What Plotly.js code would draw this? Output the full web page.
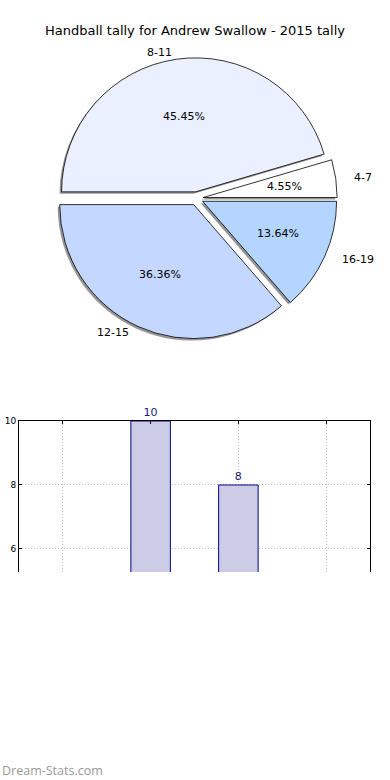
<!DOCTYPE html>
<html>
<head>
<meta charset="utf-8">
<script src="https://cdn.plot.ly/plotly-3.0.1.min.js"></script>
<style>html,body{margin:0;padding:0;background:#fff;}#chart{width:390px;height:780px;}</style>
</head>
<body>
<div id="chart"></div>
<script>
// ---- data ----
const categories = ['4-7', '8-11', '12-15', '16-19'];
const tallies = [1, 10, 8, 3];
const sliceColors = ['#ffffff', '#eaf0ff', '#c4d8ff', '#b3d5ff'];
const titleText = 'Handball tally for Andrew Swallow - 2015 tally';
const yTicks = [6, 8, 10];

// ---- layout helpers ----
const W = 390, H = 780;
const px = x => x / W;
const py = y => 1 - y / H;
const pull = 0.05;
function box(cx, cy, half) {
  return { x: [px(cx - half), px(cx + half)], y: [py(cy + half), py(cy - half)] };
}
const cx = 196.5, cy = 198.5, R = 134;
const half = R * (1 + pull);
const total = tallies.reduce((a, b) => a + b, 0);
// first wedge starts at 3 o'clock and runs counterclockwise
const rot = 90 - 360 * tallies[0] / total;

const common = { labels: categories, values: tallies, sort: false,
  direction: 'counterclockwise', rotation: rot, pull: pull, type: 'pie', showlegend: false };

const shadow = Object.assign({}, common, {
  marker: { colors: categories.map(() => 'rgba(80,80,80,0.6)'), line: { width: 0 } },
  textinfo: 'none', hoverinfo: 'skip',
  domain: box(cx - 2, cy + 2, half)
});
const main = Object.assign({}, common, {
  marker: { colors: sliceColors, line: { color: '#000', width: 0.8 } },
  textinfo: 'none',
  domain: box(cx, cy, half)
});

// wedge-mid directions derived from the data (angle counterclockwise from 3 o'clock)
let acc = 0;
const mids = tallies.map(v => { const a0 = acc; acc += v; return ((a0 + v / 2) / total) * 2 * Math.PI; });
const pctText = tallies.map(v => (100 * v / total).toFixed(2) + '%');
const txtFont = { family: 'DejaVu Sans', size: 11, color: '#000' };
const pieTexts = [];
mids.forEach((a, i) => {
  pieTexts.push({
    xref: 'x2', yref: 'y2', showarrow: false, font: txtFont,
    x: (pull + 0.6) * Math.cos(a), y: (pull + 0.6) * Math.sin(a),
    xanchor: 'center', yanchor: 'middle', text: pctText[i]
  });
  pieTexts.push({
    xref: 'x2', yref: 'y2', showarrow: false, font: txtFont,
    x: (pull + 1.1) * Math.cos(a), y: (pull + 1.1) * Math.sin(a),
    xanchor: Math.cos(a) > 0 ? 'left' : 'right', yanchor: 'middle', text: categories[i]
  });
});

// ---- bar chart (cropped) ----
const yMin = 5.28, yMax = 10;
const bars = {
  type: 'bar', x: categories, y: tallies, width: 0.45,
  marker: { color: '#ccccE6', line: { color: '#00008b', width: 1 } },
  xaxis: 'x', yaxis: 'y', showlegend: false, hoverinfo: 'x+y'
};
const barLabels = {
  type: 'scatter', mode: 'markers+text', x: categories, y: tallies,
  text: tallies.map(v => (v >= yMin ? String(v) : '')),
  marker: { size: 2, color: 'rgba(0,0,0,0)' },
  textposition: 'top center', cliponaxis: false,
  textfont: { family: 'DejaVu Sans', size: 11, color: '#1a1a80' },
  xaxis: 'x', yaxis: 'y', showlegend: false, hoverinfo: 'skip'
};

// text-placement frame for the pie: covers the whole upper panel, units = px per pie radius
const ux = 137, uy = 128;
const topPanelBottom = 400;
const layout = {
  width: W, height: H,
  margin: { l: 0, r: 0, t: 0, b: 0 },
  paper_bgcolor: '#fff', plot_bgcolor: '#fff',
  font: { family: 'DejaVu Sans', color: '#000' },
  title: { text: titleText, x: 0.5, xanchor: 'center', y: py(30), yanchor: 'middle',
           font: { family: 'DejaVu Sans', size: 13, color: '#000' } },
  xaxis: {
    domain: [px(19), px(370)], anchor: 'y', side: 'top',
    type: 'category', range: [-0.5, 3.5],
    showline: true, linecolor: '#000', linewidth: 1,
    ticks: 'inside', ticklen: 3, tickcolor: '#000',
    showticklabels: false,
    showgrid: true, gridcolor: '#bdbdbd', griddash: '1px,2px', gridwidth: 1,
    zeroline: false, fixedrange: true
  },
  yaxis: {
    domain: [py(572), py(421)], anchor: 'x',
    range: [yMin, yMax], tickvals: yTicks,
    showline: true, mirror: 'ticks', linecolor: '#000', linewidth: 1,
    ticks: 'inside', ticklen: 3, tickcolor: '#000',
    tickfont: { family: 'DejaVu Sans', size: 9, color: '#000' },
    showgrid: true, gridcolor: '#bdbdbd', griddash: '1px,2px', gridwidth: 1,
    zeroline: false, fixedrange: true
  },
  xaxis2: { domain: [0, 1], anchor: 'y2', range: [(0 - cx) / ux, (W - cx) / ux], visible: false, fixedrange: true },
  yaxis2: { domain: [py(topPanelBottom), 1], anchor: 'x2', range: [(cy - topPanelBottom) / uy, cy / uy], visible: false, fixedrange: true },
  annotations: pieTexts.concat([{
    text: 'Dream-Stats.com', xref: 'paper', yref: 'paper',
    x: 0, xanchor: 'left', y: py(770), yanchor: 'middle', showarrow: false,
    font: { family: 'Open Sans', size: 12.5, color: '#999999' }
  }])
};

Plotly.newPlot('chart', [bars, barLabels, shadow, main], layout, { displayModeBar: false, staticPlot: true });
</script>
</body>
</html>
